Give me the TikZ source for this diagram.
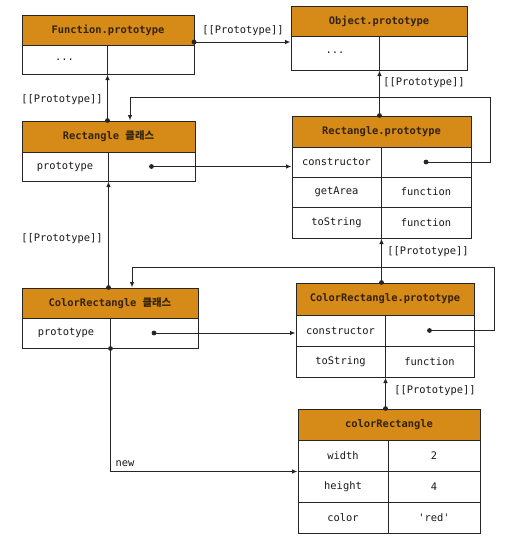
\documentclass[tikz,border=0pt]{standalone}
\usepackage{fontspec}
\setmainfont{DejaVu Sans Mono}[Ligatures=TeXOff]
\newfontfamily\kr{Noto Sans CJK KR}
\usetikzlibrary{arrows.meta}
\definecolor{hdrfill}{HTML}{D68A17}
\definecolor{hdrtext}{HTML}{33230C}
\definecolor{ink}{HTML}{262626}
\newcommand\mycell[7]{%
  \pgfmathsetmacro\mycw{#5-#3}\pgfmathsetmacro\mych{#6-#4}%
  \pgfmathsetmacro\mycx{(#3+#5)/2}\pgfmathsetmacro\mycy{(#4+#6)/2}%
  \node[#1,minimum width=\mycw pt,minimum height=\mych pt] (#2) at (\mycx,\mycy) {#7};}
\tikzset{
  cellbox/.style={draw=ink,line width=1pt,fill=white,inner sep=0pt,font=\fontsize{10.4}{12}\selectfont,text=black!90},
  hdrbox/.style={cellbox,fill=hdrfill,text=hdrtext,font=\fontsize{10.4}{12}\selectfont\bfseries},
  arr/.style={draw=ink,line width=1pt,-{Latex[length=5.5pt,width=4.5pt]}},
  lbl/.style={font=\fontsize{10.4}{12}\selectfont,text=black!90,inner sep=0pt},
  dotc/.style={fill=ink}
}
\begin{document}
\begin{tikzpicture}[x=1pt,y=-1pt]
\useasboundingbox[fill=white] (0,0) rectangle (506,541);
% Function.prototype
\mycell{hdrbox}{fph}{22}{15}{194}{45}{Function.prototype}
\mycell{cellbox}{fpa}{22}{45}{107}{74}{...}
\mycell{cellbox}{fpb}{107}{45}{194}{74}{}
% Object.prototype
\mycell{hdrbox}{oph}{291}{6}{467}{36}{Object.prototype}
\mycell{cellbox}{opa}{291}{36}{379}{70}{...}
\mycell{cellbox}{opb}{379}{36}{467}{70}{}
% Rectangle class
\mycell{hdrbox}{rch}{22}{121}{195}{152}{Rectangle {\kr\bfseries 클래스}}
\mycell{cellbox}{rca}{22}{152}{108}{181}{prototype}
\mycell{cellbox}{rcb}{108}{152}{195}{181}{}
% Rectangle.prototype
\mycell{hdrbox}{rph}{292}{116}{471}{147}{Rectangle.prototype}
\mycell{cellbox}{rpc1}{292}{147}{381}{177}{constructor}
\mycell{cellbox}{rpc2}{381}{147}{471}{177}{}
\mycell{cellbox}{rpg1}{292}{177}{381}{207}{getArea}
\mycell{cellbox}{rpg2}{381}{177}{471}{207}{function}
\mycell{cellbox}{rpt1}{292}{207}{381}{238}{toString}
\mycell{cellbox}{rpt2}{381}{207}{471}{238}{function}
% ColorRectangle class
\mycell{hdrbox}{crh}{22}{288}{198}{318}{ColorRectangle {\kr\bfseries 클래스}}
\mycell{cellbox}{cra}{22}{318}{110}{348}{prototype}
\mycell{cellbox}{crb}{110}{318}{198}{348}{}
% ColorRectangle.prototype
\mycell{hdrbox}{crph}{296}{283}{474}{315}{ColorRectangle.prototype}
\mycell{cellbox}{crpc1}{296}{315}{385}{346}{constructor}
\mycell{cellbox}{crpc2}{385}{315}{474}{346}{}
\mycell{cellbox}{crpt1}{296}{346}{385}{377}{toString}
\mycell{cellbox}{crpt2}{385}{346}{474}{377}{function}
% colorRectangle
\mycell{hdrbox}{cobh}{298}{409}{480}{440}{colorRectangle}
\mycell{cellbox}{cw1}{298}{440}{388}{471}{width}
\mycell{cellbox}{cw2}{388}{440}{480}{471}{2}
\mycell{cellbox}{chh1}{298}{471}{388}{502}{height}
\mycell{cellbox}{chh2}{388}{471}{480}{502}{4}
\mycell{cellbox}{cc1}{298}{502}{388}{533}{color}
\mycell{cellbox}{cc2}{388}{502}{480}{533}{'red'}
% connectors
\coordinate (fpout) at (194,42);
\draw[arr] (fpout) -- (fpout -| opa.west);
\fill[dotc] (fpout) circle (2.4pt);
\node[lbl] (l1) at (243,31) {[[Prototype]]};

\draw[arr] (fpa.south east |- rch.north) -- (fpa.south east);
\fill[dotc] (fpa.south east |- rch.north) circle (2.4pt);
\node[lbl] (l2) at (62,100) {[[Prototype]]};

\draw[arr] (opa.south east |- rph.north) -- (opa.south east);
\fill[dotc] (opa.south east |- rph.north) circle (2.4pt);
\node[lbl] (l3) at (424,83) {[[Prototype]]};

\coordinate (r1) at (490,97);
\draw[arr] (rpc2.center) -| (r1) -| ([xshift=21.5pt]rch.north);
\fill[dotc] (rpc2.center) circle (2.4pt);

\draw[arr] (rcb.center) -- (rcb.center -| rpc1.west);
\fill[dotc] (rcb.center) circle (2.4pt);

\draw[arr] (rca.south east |- crh.north) -- (rca.south east);
\fill[dotc] (rca.south east |- crh.north) circle (2.4pt);
\node[lbl] (l4) at (62,239) {[[Prototype]]};

\draw[arr] (rpt1.south east |- crph.north) -- (rpt1.south east);
\fill[dotc] (rpt1.south east |- crph.north) circle (2.4pt);
\node[lbl] (l5) at (428,252) {[[Prototype]]};

\coordinate (r2) at (494,267);
\draw[arr] (crpc2.center) -| (r2) -| ([xshift=22pt]crh.north);
\fill[dotc] (crpc2.center) circle (2.4pt);

\draw[arr] (crb.center) -- (crb.center -| crpc1.west);
\fill[dotc] (crb.center) circle (2.4pt);

\draw[arr] (crpt1.south east |- cobh.north) -- (crpt1.south east);
\fill[dotc] (crpt1.south east |- cobh.north) circle (2.4pt);
\node[lbl] (l6) at (435,391) {[[Prototype]]};

\draw[arr] (cra.south east) |- (cw1.south west);
\fill[dotc] (cra.south east) circle (2.4pt);
\node[lbl] (lnew) at (125,464) {new};
\end{tikzpicture}
\end{document}
